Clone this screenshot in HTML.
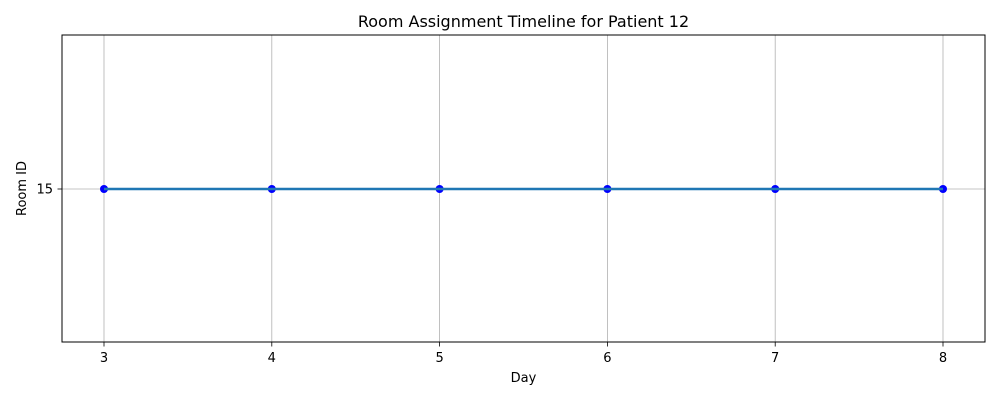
<!DOCTYPE html>
<html><head><meta charset="utf-8"><style>
body{margin:0;background:#fff;}
svg text{font-family:"DejaVu Sans","Liberation Sans",sans-serif;fill:#000;}
</style></head><body>
<svg id="chart" width="1000" height="400" xmlns="http://www.w3.org/2000/svg">
<rect width="1000" height="400" fill="#fff"/>
<text x="523.5" y="27" text-anchor="middle" font-size="16">Room Assignment Timeline for Patient 12</text>
<g id="grid"></g>
<g id="series"></g>
<rect x="62" y="35" width="923" height="307" fill="none" stroke="#000" stroke-width="1"/>
<g id="xticks"></g>
<g id="yticks"></g>
<text x="523.5" y="382" text-anchor="middle" font-size="13">Day</text>
<text x="26" y="188.5" text-anchor="middle" font-size="13" transform="rotate(-90 26 188.5)">Room ID</text>
</svg>
<script>
const days = [3, 4, 5, 6, 7, 8];
const rooms = [15, 15, 15, 15, 15, 15];
const xTickLabels = [3, 4, 5, 6, 7, 8];
const yTickLabels = [15];
const NS = "http://www.w3.org/2000/svg";
function X(v){ return 104 + (v - 3) * (943 - 104) / 5; }
function Y(v){ return 189 - (v - 15) * 30; }
function mk(tag, attrs, parent){ const e = document.createElementNS(NS, tag); for (const k in attrs) e.setAttribute(k, attrs[k]); document.getElementById(parent).appendChild(e); return e; }
xTickLabels.forEach(t => {
  const g = mk('line', {x1:X(t), x2:X(t), y1:35, y2:342, stroke:'#b0b0b0', 'stroke-width':0.8}, 'grid');
  
  
  const tk = mk('line', {x1:X(t), x2:X(t), y1:342, y2:346.5, stroke:'#000', 'stroke-width':0.8}, 'xticks');
  
  
  const tx = mk('text', {x:X(t), y:362, 'text-anchor':'middle', 'font-size':13}, 'xticks');
  tx.textContent = t;
  
  
});
yTickLabels.forEach(t => {
  const g = mk('line', {x1:62, x2:985, y1:Y(t), y2:Y(t), stroke:'#b0b0b0', 'stroke-width':0.8}, 'grid');
  
  
  const tk = mk('line', {x1:57.5, x2:62, y1:Y(t), y2:Y(t), stroke:'#000', 'stroke-width':0.8}, 'yticks');
  
  
  const tx = mk('text', {x:53, y:Y(t)+4.5, 'text-anchor':'end', 'font-size':13}, 'yticks');
  tx.textContent = t;
  
  
});
days.forEach((d,i) => {
  const c = mk('circle', {cx:X(d), cy:Y(rooms[i]), r:4, fill:'#0000ff'}, 'series');
  
  
});
const pts = days.map((d,i) => X(d) + ',' + Y(rooms[i])).join(' ');
const line = mk('polyline', {points:pts, fill:'none', stroke:'#1f77b4', 'stroke-width':2.5}, 'series');


</script>
</body></html>
